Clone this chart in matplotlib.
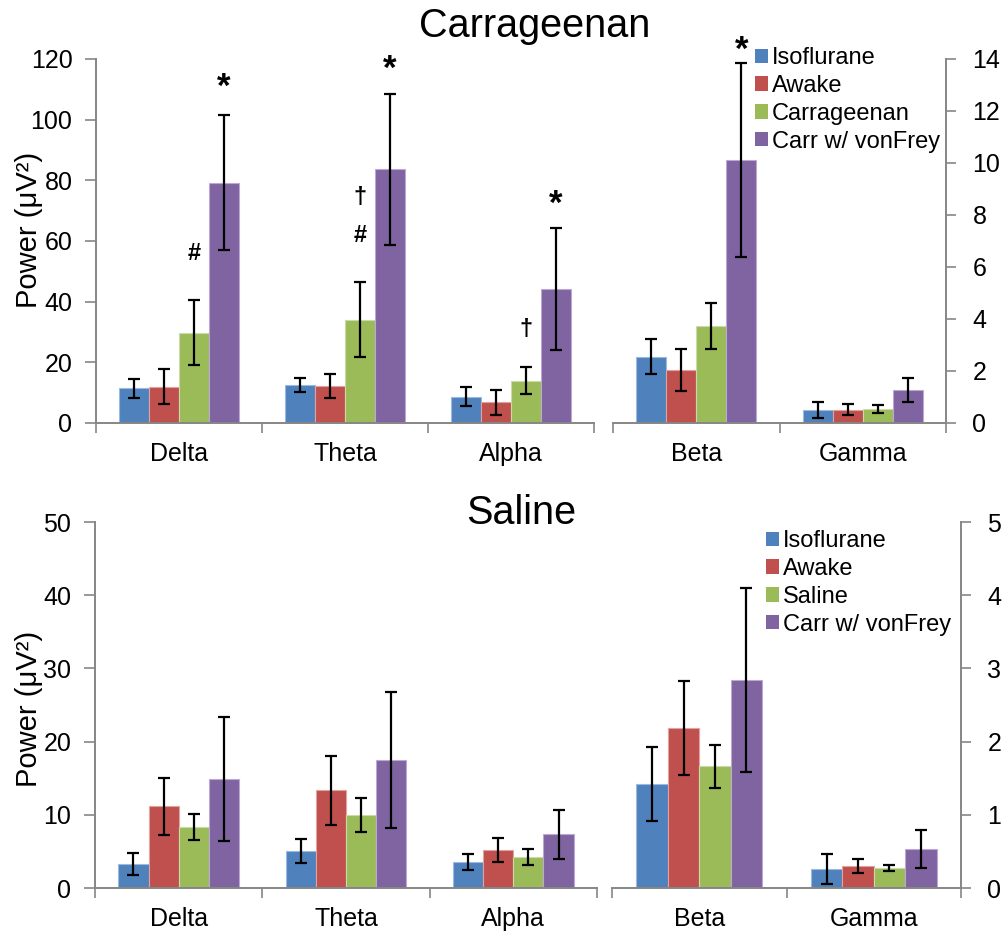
import matplotlib
matplotlib.use('Agg')
import matplotlib.pyplot as plt
from matplotlib.patches import Patch
import matplotlib.transforms as mtransforms
import numpy as np

plt.rcParams['font.family'] = ['Liberation Sans', 'DejaVu Sans']

W, H = 1003, 934

# ---------------- data ----------------
left_bands = ['Delta', 'Theta', 'Alpha']
right_bands = ['Beta', 'Gamma']
series_top = ['Isoflurane', 'Awake', 'Carrageenan', 'Carr w/ vonFrey']
series_bot = ['Isoflurane', 'Awake', 'Saline', 'Carr w/ vonFrey']
colors = ['#4F81BD', '#C0504D', '#9BBB59', '#8064A2']
edge_colors = ['#9DB9DF', '#E0A3A1', '#C9DCA6', '#BBA9D3']

# Carrageenan panel (left axis: Delta/Theta/Alpha, right axis: Beta/Gamma)
top_iso_L = [11.4, 12.5, 8.7]
top_iso_L_err = [3.0, 2.4, 3.2]
top_awk_L = [12.0, 12.2, 6.9]
top_awk_L_err = [5.7, 4.0, 4.1]
top_car_L = [29.8, 34.1, 14.0]
top_car_L_err = [10.6, 12.5, 4.5]
top_cvf_L = [79.2, 83.6, 44.3]
top_cvf_L_err = [22.2, 24.9, 20.1]

top_iso_R = [2.55, 0.51]
top_iso_R_err = [0.68, 0.31]
top_awk_R = [2.04, 0.51]
top_awk_R_err = [0.81, 0.22]
top_car_R = [3.73, 0.54]
top_car_R_err = [0.88, 0.14]
top_cvf_R = [10.12, 1.27]
top_cvf_R_err = [3.74, 0.45]

# Saline panel
bot_iso_L = [3.27, 5.05, 3.55]
bot_iso_L_err = [1.45, 1.68, 1.05]
bot_awk_L = [11.18, 13.32, 5.18]
bot_awk_L_err = [3.9, 4.77, 1.64]
bot_sal_L = [8.36, 9.95, 4.23]
bot_sal_L_err = [1.8, 2.3, 1.14]
bot_cvf_L = [14.86, 17.5, 7.36]
bot_cvf_L_err = [8.5, 9.27, 3.36]

bot_iso_R = [1.42, 0.26]
bot_iso_R_err = [0.50, 0.21]
bot_awk_R = [2.19, 0.30]
bot_awk_R_err = [0.64, 0.09]
bot_sal_R = [1.66, 0.27]
bot_sal_R_err = [0.30, 0.04]
bot_cvf_R = [2.84, 0.53]
bot_cvf_R_err = [1.26, 0.26]

# significance markers (Carrageenan panel)
sig_band = ['Delta', 'Delta', 'Theta', 'Theta', 'Theta', 'Alpha', 'Alpha', 'Beta']
sig_series = [3, 2, 2, 2, 3, 2, 3, 3]
sig_symbol = ['*', '#', '\u2020', '#', '*', '\u2020', '*', '*']
sig_y = [113.0, 56.0, 74.2, 61.7, 119.0, 30.7, 74.5, 14.6]

top_left_ticks = [0, 20, 40, 60, 80, 100, 120]
top_right_ticks = [0, 2, 4, 6, 8, 10, 12, 14]
bot_left_ticks = [0, 10, 20, 30, 40, 50]
bot_right_ticks = [0, 1, 2, 3, 4, 5]

# ---------------- drawing ----------------
fig = plt.figure(figsize=(W / 100, H / 100), dpi=100)

SPINE = '#868686'
BW = 0.18


def add_axes_px(x0, y0, x1, y1):
    return fig.add_axes([x0 / W, 1 - y1 / H, (x1 - x0) / W, (y1 - y0) / H])


def draw_bars(ax, bands, means, errs):
    x = np.arange(len(bands))
    for i, (m, e) in enumerate(zip(means, errs)):
        xs = x + (i - 1.5) * BW
        ax.bar(xs, m, BW, color=colors[i], edgecolor=edge_colors[i],
               linewidth=0.8, zorder=2)
        ax.errorbar(xs, m, yerr=e, fmt='none', ecolor='black',
                    elinewidth=1.6, capsize=4.6, capthick=1.6, zorder=3)
    return x


def style_axis(ax, bands, ticks, side):
    n = len(bands)
    ax.set_xlim(-0.5, n - 0.5)
    ax.set_ylim(ticks[0], ticks[-1])
    ax.set_xticks(np.arange(n + 1) - 0.5)
    ax.set_xticklabels([])
    ax.set_xticks(np.arange(n), minor=True)
    ax.set_xticklabels(bands, minor=True, fontsize=18)
    ax.tick_params(axis='x', which='major', direction='out', length=7,
                   width=1.2, color=SPINE)
    ax.tick_params(axis='x', which='minor', length=0, pad=14)
    ax.set_yticks(ticks)
    ax.set_yticklabels([str(t) for t in ticks], fontsize=18)
    ax.spines['top'].set_visible(False)
    ax.spines['bottom'].set_color(SPINE)
    ax.spines['bottom'].set_linewidth(1.4)
    if side == 'left':
        ax.spines['right'].set_visible(False)
        ax.spines['left'].set_color(SPINE)
        ax.spines['left'].set_linewidth(1.4)
        ax.tick_params(axis='y', direction='out', length=8, width=1.2,
                       color=SPINE, pad=9)
    else:
        ax.spines['left'].set_visible(False)
        ax.spines['right'].set_color(SPINE)
        ax.spines['right'].set_linewidth(1.4)
        ax.yaxis.tick_right()
        ax.tick_params(axis='y', direction='out', length=7, width=1.2,
                       color=SPINE, pad=12)
    ax.patch.set_alpha(0)


def panel(boxL, boxR, meansL, errsL, meansR, errsR, ticksL, ticksR,
          series, title, title_xy, ylab_y, legend_xy):
    axL = add_axes_px(*boxL)
    axR = add_axes_px(*boxR)
    draw_bars(axL, left_bands, meansL, errsL)
    draw_bars(axR, right_bands, meansR, errsR)
    style_axis(axL, left_bands, ticksL, 'left')
    style_axis(axR, right_bands, ticksR, 'right')
    fig.text(title_xy[0] / W, 1 - title_xy[1] / H, title, fontsize=28.5,
             ha='center', va='center')
    fig.text(29 / W, 1 - ylab_y / H, 'Power (\u03bcV\u00b2)', fontsize=21,
             rotation=90, ha='center', va='center')
    handles = [Patch(facecolor=c, edgecolor='none') for c in colors]
    fig.legend(handles, series, loc='upper left',
               bbox_to_anchor=(legend_xy[0] / W, 1 - legend_xy[1] / H),
               frameon=False, fontsize=17, handlelength=0.55,
               handleheight=0.55, handletextpad=0.15, labelspacing=0.25,
               borderpad=0, borderaxespad=0)
    return axL, axR


tL, tR = panel((96, 59, 594, 423), (613, 59, 946, 423),
               [top_iso_L, top_awk_L, top_car_L, top_cvf_L],
               [top_iso_L_err, top_awk_L_err, top_car_L_err, top_cvf_L_err],
               [top_iso_R, top_awk_R, top_car_R, top_cvf_R],
               [top_iso_R_err, top_awk_R_err, top_car_R_err, top_cvf_R_err],
               top_left_ticks, top_right_ticks, series_top,
               'Carrageenan', (535, 26), 230, (755, 47))

bL, bR = panel((95, 522, 597, 888), (612, 522, 961, 888),
               [bot_iso_L, bot_awk_L, bot_sal_L, bot_cvf_L],
               [bot_iso_L_err, bot_awk_L_err, bot_sal_L_err, bot_cvf_L_err],
               [bot_iso_R, bot_awk_R, bot_sal_R, bot_cvf_R],
               [bot_iso_R_err, bot_awk_R_err, bot_sal_R_err, bot_cvf_R_err],
               bot_left_ticks, bot_right_ticks, series_bot,
               'Saline', (521, 513), 709, (766, 530))

for band, si, sym, yv in zip(sig_band, sig_series, sig_symbol, sig_y):
    if band in left_bands:
        ax, xi = tL, left_bands.index(band)
    else:
        ax, xi = tR, right_bands.index(band)
    xpos = xi + (si - 1.5) * BW
    if sym == '*':
        # asterisk glyph sits high in its box; nudge down to match glyph centre
        tr = ax.transData + mtransforms.ScaledTranslation(0, -7 / 100,
                                                          fig.dpi_scale_trans)
        ax.text(xpos, yv, sym, fontsize=25, fontweight='bold', ha='center',
                va='center', clip_on=False, zorder=4, transform=tr)
    else:
        ax.text(xpos, yv, sym, fontsize=17, fontweight='bold', ha='center',
                va='center', clip_on=False, zorder=4)

fig.savefig('out.png', dpi=100)
